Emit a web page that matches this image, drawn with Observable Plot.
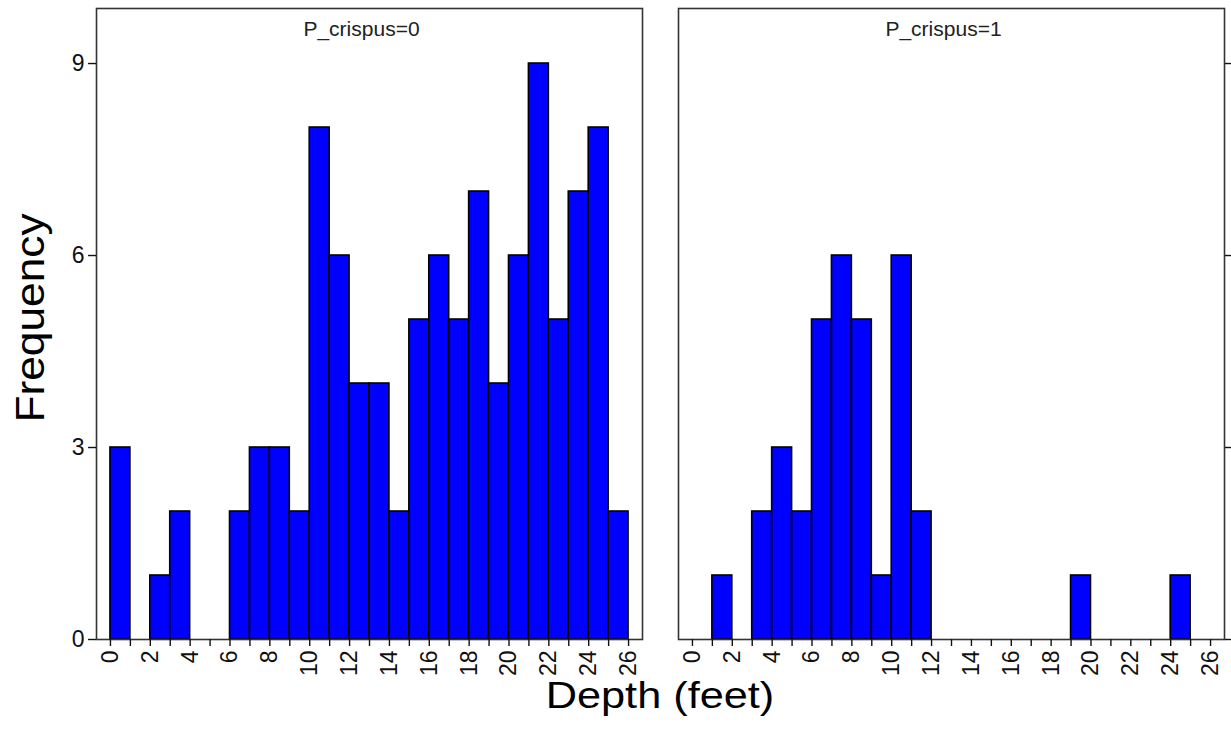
<!DOCTYPE html>
<html>
<head>
<meta charset="utf-8">
<script src="https://cdn.jsdelivr.net/npm/d3@7"></script>
<script src="https://cdn.jsdelivr.net/npm/@observablehq/plot@0.6"></script>
<style>
  body { margin: 0; background: #fff; }
  #wrap { position: relative; width: 1231px; height: 744px; font-family: "Liberation Sans", Arial, sans-serif; background: #fff; overflow: hidden; }
  .panel { position: absolute; top: 0; }
  #ytitle { position: absolute; left: 30px; top: 318px; transform: translate(-50%, -50%) rotate(-90deg) scaleX(1.08); font-size: 41px; white-space: nowrap; color: #000; }
  #xtitle { position: absolute; left: 660px; top: 696px; transform: translate(-50%, -50%) scaleX(1.17); font-size: 37px; white-space: nowrap; color: #000; }
</style>
</head>
<body>
<div id="wrap">
  <div id="p0" class="panel" style="left:0px"></div>
  <div id="p1" class="panel" style="left:660px"></div>
  <div id="ytitle">Frequency</div>
  <div id="xtitle">Depth (feet)</div>
</div>
<script>
// Bin start values (feet); each bin is 1 foot wide
const depthBins = [0, 1, 2, 3, 4, 5, 6, 7, 8, 9, 10, 11, 12, 13, 14, 15, 16, 17, 18, 19, 20, 21, 22, 23, 24, 25];
// Frequencies for P_crispus = 0
const countsP0 = [3, 0, 1, 2, 0, 0, 2, 3, 3, 2, 8, 6, 4, 4, 2, 5, 6, 5, 7, 4, 6, 9, 5, 7, 8, 2];
// Frequencies for P_crispus = 1
const countsP1 = [0, 1, 0, 2, 3, 2, 5, 6, 5, 1, 6, 2, 0, 0, 0, 0, 0, 0, 0, 1, 0, 0, 0, 0, 1, 0];
const panelLabels = ["P_crispus=0", "P_crispus=1"];
const xTicks = [0, 1, 2, 3, 4, 5, 6, 7, 8, 9, 10, 11, 12, 13, 14, 15, 16, 17, 18, 19, 20, 21, 22, 23, 24, 25, 26];
const yTicks = [0, 3, 6, 9];

function makePanel(i, counts, width, marginLeft, marginRight) {
  const data = depthBins
    .map((d, j) => ({ start: d, end: d + 1, n: counts[j] }))
    .filter(d => d.n > 0);
  return Plot.plot({
    width,
    height: 680,
    marginTop: 8,
    marginBottom: 41,
    marginLeft,
    marginRight,
    style: { fontFamily: '"Liberation Sans", Arial, sans-serif', fontSize: "21px", background: "none", color: "#111" },
    x: { domain: [-0.7, 26.7] },
    y: { domain: [0, 9.86] },
    marks: [
      Plot.rectY(data, { x1: "start", x2: "end", y: "n", fill: "#0000ff", stroke: "#000", strokeWidth: 1.6 }),
      Plot.frame({ stroke: "#333", strokeWidth: 1.6 }),
      Plot.axisX({
        ticks: xTicks, tickSize: 7, tickRotate: -90, tickPadding: 4, label: null, fontSize: 23,
        tickFormat: d => (d % 2 === 0 ? String(d) : ""), strokeWidth: 1.4
      }),
      Plot.axisY({
        ticks: yTicks, anchor: i === 0 ? "left" : "right", tickSize: 8, tickPadding: 4, label: null, fontSize: 23,
        tickFormat: i === 0 ? d => String(d) : () => "", strokeWidth: 1.4
      }),
      Plot.text([panelLabels[i]], {
        frameAnchor: "top", lineAnchor: "middle", dy: 21, dx: -8, text: d => d, fontSize: 21, fill: "#222"
      })
    ]
  });
}

document.getElementById("p0").appendChild(makePanel(0, countsP0, 660, 96, 18));
document.getElementById("p1").appendChild(makePanel(1, countsP1, 571, 18, 7));
</script>
</body>
</html>
